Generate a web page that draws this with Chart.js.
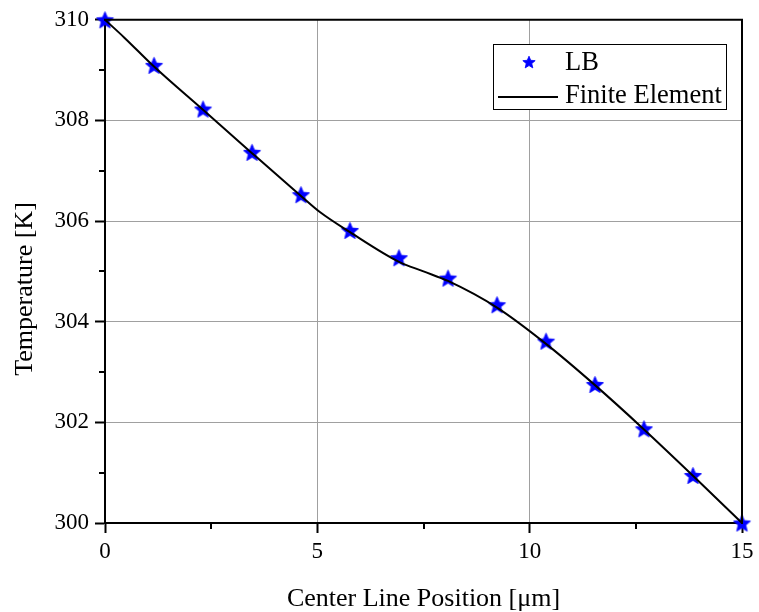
<!DOCTYPE html>
<html>
<head>
<meta charset="utf-8">
<script src="https://cdn.jsdelivr.net/npm/chart.js@4"></script>
<style>
html,body{margin:0;padding:0;background:#fff;}
#wrap{width:759px;height:612px;position:relative;}
</style>
</head>
<body>
<div id="wrap"><canvas id="c" width="759" height="612"></canvas></div>
<script>
// Data
const lbX = [0, 1.154, 2.308, 3.462, 4.615, 5.769, 6.923, 8.077, 9.231, 10.385, 11.538, 12.692, 13.846, 15];
const lbY = [310, 309.095, 308.227, 307.366, 306.525, 305.815, 305.272, 304.867, 304.338, 303.614, 302.753, 301.873, 300.944, 300];
const feX = [0, 0.45, 1.154, 2.308, 3.462, 4.615, 5.06, 5.769, 6.923, 7.5, 8.077, 9.231, 10.385, 11.538, 12.692, 13.846, 15];
const feY = [310, 309.65, 309.07, 308.21, 307.35, 306.5, 306.18, 305.78, 305.19, 305.0, 304.81, 304.28, 303.56, 302.74, 301.86, 300.94, 300];
const xMajorTicks = [0, 5, 10, 15];
const xMinorTicks = [2.5, 7.5, 12.5];
const yMajorTicks = [300, 302, 304, 306, 308, 310];
const yMinorTicks = [301, 303, 305, 307, 309];
const seriesNames = ['LB', 'Finite Element'];
const xTitle = 'Center Line Position [\u03bcm]';
const yTitle = 'Temperature [K]';

const FONT = '"Liberation Serif", "Times New Roman", serif';
const BLUE = '#0000ff';

function makeStar(size, color) {
  const cv = document.createElement('canvas');
  cv.width = size; cv.height = size;
  const g = cv.getContext('2d');
  const R = size / 2 - 0.5, r = R * 0.45;
  const cx = size / 2, cy = size / 2 + R * 0.1;
  g.beginPath();
  for (let i = 0; i < 10; i++) {
    const a = -Math.PI / 2 + i * Math.PI / 5;
    const rad = i % 2 === 0 ? R : r;
    const px = cx + rad * Math.cos(a), py = cy + rad * Math.sin(a);
    if (i === 0) g.moveTo(px, py); else g.lineTo(px, py);
  }
  g.closePath();
  g.fillStyle = color;
  g.fill();
  g.strokeStyle = color;
  g.lineWidth = 0.8;
  g.lineJoin = 'miter';
  g.stroke();
  return cv;
}
const starImg = makeStar(19, BLUE);
const starLegend = makeStar(14, BLUE);

const extras = {
  id: 'extras',
  afterDraw(chart) {
    const ctx = chart.ctx;
    const xs = chart.scales.x, ys = chart.scales.y;
    const a = chart.chartArea;
    ctx.save();
    // minor ticks
    ctx.strokeStyle = '#000';
    ctx.lineWidth = 2;
    ctx.beginPath();
    yMinorTicks.forEach(v => {
      const p = Math.round(ys.getPixelForValue(v));
      ctx.moveTo(a.left, p); ctx.lineTo(a.left - 6, p);
    });
    xMinorTicks.forEach(v => {
      const p = Math.round(xs.getPixelForValue(v));
      ctx.moveTo(p, a.bottom); ctx.lineTo(p, a.bottom + 6);
    });
    ctx.stroke();
    // frame top/right
    ctx.beginPath();
    ctx.moveTo(a.left - 1, a.top); ctx.lineTo(a.right, a.top); ctx.lineTo(a.right, a.bottom + 1);
    ctx.stroke();
    // y axis title
    ctx.fillStyle = '#000';
    ctx.font = '26px ' + FONT;
    ctx.textAlign = 'center';
    ctx.textBaseline = 'middle';
    ctx.translate(25, 289);
    ctx.rotate(-Math.PI / 2);
    ctx.fillText(yTitle, 0, 0);
    ctx.setTransform(1, 0, 0, 1, 0, 0);
    // legend
    const lx = 493, ly = 44, lw = 233, lh = 65;
    ctx.fillStyle = '#fff';
    ctx.fillRect(lx, ly, lw, lh);
    ctx.lineWidth = 1;
    ctx.strokeStyle = '#000';
    ctx.strokeRect(lx + 0.5, ly + 0.5, lw, lh);
    ctx.drawImage(starLegend, 529 - 7, 62 - 7);
    ctx.lineWidth = 2;
    ctx.beginPath();
    ctx.moveTo(498, 97); ctx.lineTo(558, 97);
    ctx.stroke();
    ctx.fillStyle = '#000';
    ctx.font = '26.5px ' + FONT;
    ctx.textBaseline = 'middle';
    ctx.textAlign = 'left';
    ctx.fillText(seriesNames[0], 565, 63);
    ctx.fillText(seriesNames[1], 565, 96);
    ctx.restore();
  }
};

new Chart(document.getElementById('c'), {
  type: 'scatter',
  data: {
    datasets: [
      {
        label: seriesNames[1],
        data: feX.map((x, i) => ({x, y: feY[i]})),
        showLine: true,
        borderColor: '#000',
        borderWidth: 2,
        pointRadius: 0,
        cubicInterpolationMode: 'monotone',
        order: 0
      },
      {
        label: seriesNames[0],
        data: lbX.map((x, i) => ({x, y: lbY[i]})),
        showLine: false,
        pointStyle: starImg,
        pointRadius: 9,
        pointBorderWidth: 0,
        pointBackgroundColor: BLUE,
        pointBorderColor: BLUE,
        order: 1
      }
    ]
  },
  options: {
    responsive: false,
    animation: false,
    devicePixelRatio: 1,
    clip: false,
    layout: { padding: { left: 0, top: 19, right: 17, bottom: 0 } },
    plugins: { legend: { display: false }, tooltip: { enabled: false } },
    scales: {
      x: {
        type: 'linear', min: 0, max: 15,
        afterBuildTicks(s) { s.ticks = xMajorTicks.map(v => ({value: v})); },
        afterFit(s) { s.height = 89; },
        grid: { color: '#a0a0a0', lineWidth: 1, tickColor: '#000', tickWidth: 2, tickLength: 10 },
        border: { color: '#000', width: 2 },
        ticks: { color: '#000', font: { family: FONT, size: 23 }, padding: 5, maxRotation: 0 },
        title: { display: true, text: xTitle, color: '#000', font: { family: FONT, size: 26 }, padding: { top: 10, bottom: -3 } }
      },
      y: {
        type: 'linear', min: 300, max: 310,
        afterBuildTicks(s) { s.ticks = yMajorTicks.map(v => ({value: v})); },
        afterFit(s) { s.width = 105; },
        grid: { color: '#a0a0a0', lineWidth: 1, tickColor: '#000', tickWidth: 2, tickLength: 10 },
        border: { color: '#000', width: 2 },
        ticks: { color: '#000', font: { family: FONT, size: 23 }, padding: 6 },
        title: { display: false, text: yTitle }
      }
    }
  },
  plugins: [extras]
});
</script>
</body>
</html>
